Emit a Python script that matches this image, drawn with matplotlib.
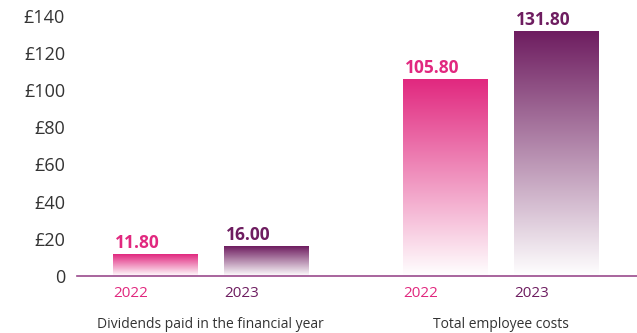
import numpy as np
import matplotlib
matplotlib.use("Agg")
import matplotlib.pyplot as plt
from matplotlib.colors import to_rgb

plt.rcParams['font.family'] = ['Open Sans', 'DejaVu Sans']

# Data
groups = ["Dividends paid in the financial year", "Total employee costs"]
years = ["2022", "2023"]
values = [[11.80, 16.00], [105.80, 131.80]]
value_labels = [["11.80", "16.00"], ["105.80", "131.80"]]
yticks = [0, 20, 40, 60, 80, 100, 120, 140]
ytick_labels = ["0", "£20", "£40", "£60", "£80", "£100", "£120", "£140"]

year_colors = ["#E1287F", "#6E1D60"]
axis_color = "#9A4A8C"
text_color = "#333333"

group_step = 2.613
bar_width = 0.76

fig = plt.figure(figsize=(6.37, 3.33), dpi=100)
ax = fig.add_axes([77 / 637, 57 / 333, 560 / 637, 276 / 333])

for g, grp in enumerate(groups):
    for i, yr in enumerate(years):
        x = g * group_step + i
        v = values[g][i]
        c = np.array(to_rgb(year_colors[i]))
        # vertical fade from full colour at the top to white at the base
        t = np.linspace(0, 1, 256)[:, None]
        grad = (1 - t) * np.ones(3) + t * c  # row 0 = bottom (white)
        grad = np.repeat(grad[:, None, :], 2, axis=1)
        ax.imshow(grad, extent=(x - bar_width / 2, x + bar_width / 2, 0, v),
                  origin="lower", aspect="auto", interpolation="bilinear", zorder=2)
        ax.annotate(value_labels[g][i], xy=(x - bar_width / 2, v), xytext=(2, 6),
                    textcoords="offset pixels", ha="left", va="baseline",
                    fontsize=12.5, fontweight="bold", color=year_colors[i])
        ax.annotate(yr, xy=(x - bar_width / 2, 0), xytext=(0, -21),
                    textcoords="offset pixels", ha="left", va="baseline",
                    fontsize=11, color=year_colors[i], annotation_clip=False)
    xc = g * group_step + 0.5
    ax.annotate(grp, xy=(xc, 0), xytext=(0, -52), textcoords="offset pixels",
                ha="center", va="baseline", fontsize=10, color=text_color,
                annotation_clip=False)

ax.set_xlim(-0.703, 4.342)
ax.set_ylim(0, 148.5)
ax.set_yticks(yticks)
ax.set_yticklabels(ytick_labels)
ax.tick_params(axis="y", length=0, pad=8.6, labelsize=13, labelcolor=text_color)
ax.set_xticks([])
for s in ["top", "right", "left"]:
    ax.spines[s].set_visible(False)
ax.spines["bottom"].set_color(axis_color)
ax.spines["bottom"].set_linewidth(1.2)
ax.spines["bottom"].set_zorder(3)

fig.savefig("out.png", dpi=100)
